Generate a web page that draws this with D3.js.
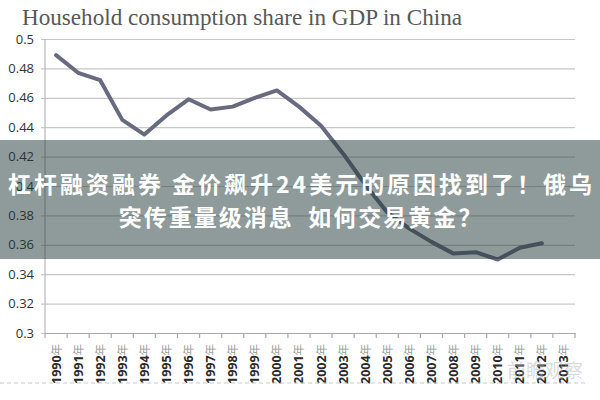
<!DOCTYPE html>
<html>
<head>
<meta charset="utf-8">
<script src="https://cdn.jsdelivr.net/npm/d3@7"></script>
<style>
  html, body { margin: 0; padding: 0; background: #fff; }
  svg { display: block; }
</style>
</head>
<body>
<svg id="chart" width="600" height="400"></svg>
<script>
const titleText = "Household consumption share in GDP in China";
const years = ["1990","1991","1992","1993","1994","1995","1996","1997","1998","1999","2000","2001","2002","2003","2004","2005","2006","2007","2008","2009","2010","2011","2012","2013"];
const shares = [0.489,0.477,0.472,0.445,0.435,0.448,0.459,0.452,0.454,0.460,0.465,0.454,0.441,0.422,0.401,0.382,0.371,0.362,0.354,0.355,0.350,0.358,0.361,null];
const yTicks = [0.3,0.32,0.34,0.36,0.38,0.4,0.42,0.44,0.46,0.48,0.5];
const yTickLabels = ["0.3","0.32","0.34","0.36","0.38","0.4","0.42","0.44","0.46","0.48","0.5"];
const yearSuffix = "年";
const overlayLines = ["杠杆融资融券 金价飙升24美元的原因找到了！俄乌", "突传重量级消息  如何交易黄金？"];
const watermark = "前瞻观察";

(function () {
const svg = d3.select("#chart");
const pLeft = 45, pRight = 575, pTop = 39, pBottom = 333;

const x = d3.scaleBand().domain(years).range([pLeft, pRight]).padding(0);
const y = d3.scaleLinear().domain([0.3, 0.5]).range([pBottom, pTop]);

// title
svg.append("text")
  .attr("x", 22).attr("y", 25)
  .attr("font-family", "'Liberation Serif', 'DejaVu Serif', serif")
  .attr("font-size", 23)
  .attr("fill", "#585858")
  .attr("textLength", 440)
  .attr("lengthAdjust", "spacingAndGlyphs")
  .text(titleText);

// gridlines + y ticks
const yAxis = d3.axisLeft(y).tickValues(yTicks)
  .tickSize(-(pRight - pLeft))
  .tickFormat((d, i) => yTickLabels[i]);
const gy = svg.append("g").attr("transform", `translate(${pLeft},0)`).call(yAxis);
gy.select(".domain").remove();
gy.selectAll(".tick line").attr("stroke", "#c8c8c8").attr("stroke-width", 1.2).attr("x1", -4);
gy.selectAll(".tick text")
  .attr("x", -11)
  .attr("font-family", "'Open Sans', sans-serif")
  .attr("font-size", 13)
  .attr("fill", "#333");
svg.append("line").attr("x1", pLeft).attr("x2", pLeft).attr("y1", pTop).attr("y2", pBottom)
  .attr("stroke", "#b8b8b8").attr("stroke-width", 1.2);

// x axis
const xAxis = d3.axisBottom(x).tickSize(0).tickFormat("");
const gx = svg.append("g").attr("transform", `translate(0,${pBottom})`).call(xAxis);
gx.select(".domain").attr("stroke", "#a8a8a8").attr("stroke-width", 1.2);
gx.selectAll(".tick").remove();
const bounds = years.map(d => x(d)).concat([x(years[years.length - 1]) + x.bandwidth()]);
gx.selectAll("line.bt").data(bounds).enter().append("line")
  .attr("class", "bt")
  .attr("x1", d => d).attr("x2", d => d)
  .attr("y1", 0).attr("y2", 5)
  .attr("stroke", "#a8a8a8").attr("stroke-width", 1.2);

// x labels
const xl = svg.append("g");
years.forEach(yr => {
  const cx = x(yr) + x.bandwidth() / 2;
  const t = xl.append("text")
    .attr("transform", `translate(${cx + 4.5},384) rotate(-90)`)
    .attr("text-anchor", "start")
    .attr("font-family", "'Open Sans', sans-serif")
    .attr("font-size", 12.5)
    .attr("font-weight", 700)
    .attr("fill", "#2a2a2a");
  t.append("tspan").text(yr);
  t.append("tspan").attr("font-weight", 400).attr("fill", "#9a9a9a").attr("font-size", 11.5)
    .attr("font-family", "'Noto Sans CJK SC', sans-serif").text(yearSuffix);
});

// dashed line
svg.append("line").attr("x1", 0).attr("x2", 585).attr("y1", 383).attr("y2", 383)
  .attr("stroke", "#c9c9c9").attr("stroke-width", 1).attr("stroke-dasharray", "4,3");

// data line
const line = d3.line()
  .defined(d => d.v != null)
  .x(d => x(d.yr) + x.bandwidth() / 2)
  .y(d => y(d.v));
const data = years.map((yr, i) => ({ yr, v: shares[i] }));
svg.append("path").datum(data)
  .attr("d", line)
  .attr("fill", "none")
  .attr("stroke", "#686b80")
  .attr("stroke-width", 4)
  .attr("stroke-linejoin", "round")
  .attr("stroke-linecap", "round");

// watermark
svg.append("text").attr("x", 545).attr("y", 378).attr("text-anchor", "middle")
  .attr("font-family", "'Noto Sans CJK SC', sans-serif").attr("font-size", 19)
  .attr("fill", "rgba(170,175,185,0.45)").text(watermark);

// overlay
svg.append("rect").attr("x", 0).attr("y", 140).attr("width", 600).attr("height", 119)
  .attr("fill", "rgb(31,55,53)").attr("fill-opacity", 0.5);
svg.append("text").attr("x", 300).attr("y", 193).attr("text-anchor", "middle")
  .attr("font-family", "'Noto Sans CJK SC', sans-serif").attr("font-weight", 700)
  .attr("font-size", 23).attr("fill", "#fff")
  .attr("textLength", 584).attr("lengthAdjust", "spacing")
  .text(overlayLines[0]);
svg.append("text").attr("x", 301).attr("y", 226).attr("text-anchor", "middle")
  .attr("font-family", "'Noto Sans CJK SC', sans-serif").attr("font-weight", 700)
  .attr("font-size", 23).attr("fill", "#fff")
  .attr("letter-spacing", 2)
  .style("white-space", "pre")
  .attr("xml:space", "preserve")
  .text(overlayLines[1]);
})();
</script>
</body>
</html>
